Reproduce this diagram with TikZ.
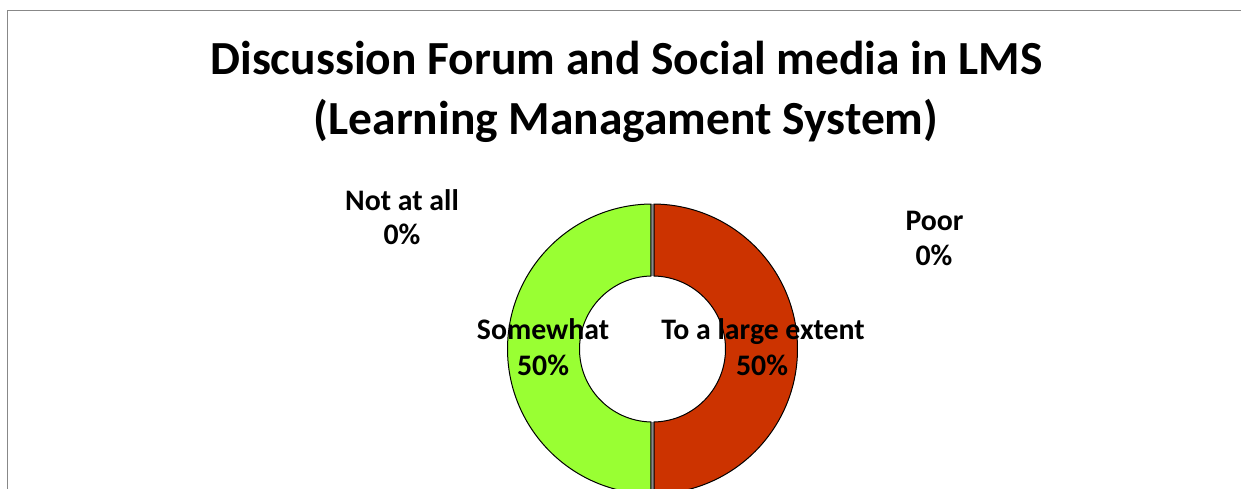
\documentclass[tikz,border=0pt]{standalone}
\usepackage{fontspec}
\setmainfont{Carlito}
\definecolor{slicegreen}{HTML}{99FF33}
\definecolor{slicered}{HTML}{CC3300}
\definecolor{frame}{HTML}{888888}
\tikzset{
  lbl/.style={anchor=base,inner sep=0pt,font=\fontsize{29.8}{34}\selectfont\bfseries},
  ttl/.style={anchor=base,inner sep=0pt,font=\fontsize{47.5}{52}\selectfont\bfseries},
  slice/.style={draw=black,line width=1pt},
}
\begin{document}
\begin{tikzpicture}[x=1pt,y=1pt]
\useasboundingbox (0,0) rectangle (1241,489);
\clip (0,0) rectangle (1241,489);
\fill[white] (0,0) rectangle (1241,489);
% frame
\draw[frame,line width=1.5pt] (7.5,-5) -- (7.5,478.5) -- (1250,478.5);
% donut
\coordinate (c) at (652.5,140);
\draw[frame,line width=3pt] ([yshift=73pt]c) -- ([yshift=145pt]c);
\draw[frame,line width=3pt] ([yshift=-73pt]c) -- ([yshift=-145pt]c);
\path[slice,fill=slicered] ([shift={(89.4:145)}]c) arc[start angle=89.4,end angle=-89.4,radius=145]
   -- ([shift={(-88.8:73)}]c) arc[start angle=-88.8,end angle=88.8,radius=73] -- cycle;
\path[slice,fill=slicegreen] ([shift={(90.6:145)}]c) arc[start angle=90.6,end angle=269.4,radius=145]
   -- ([shift={(268.8:73)}]c) arc[start angle=268.8,end angle=91.2,radius=73] -- cycle;
% title
\node[ttl] (t1) at (626.5,414) {Discussion Forum and Social media in LMS};
\node[ttl] (t2) at (626,354) {(Learning Managament System)};
% labels
\node[lbl] (n1) at (402,278) {Not at all};
\node[lbl] (n2) at (402,244) {0\%};
\node[lbl] (p1) at (934.5,258) {Poor};
\node[lbl] (p2) at (934,223) {0\%};
\node[lbl] (s1) at (543,149) {Somewhat};
\node[lbl] (s2) at (543,113) {50\%};
\node[lbl] (l1) at (763,149) {To a large extent};
\node[lbl] (l2) at (762,113) {50\%};
\end{tikzpicture}
\end{document}
